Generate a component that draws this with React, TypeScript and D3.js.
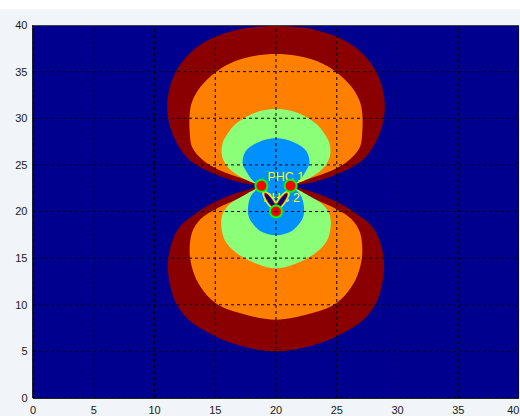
import React from "react";
import * as d3 from "d3";

type P = [number, number];

const xTicks = [0, 5, 10, 15, 20, 25, 30, 35, 40];
const yTicks = [0, 5, 10, 15, 20, 25, 30, 35, 40];

// source positions
const sources: P[] = [[18.8, 22.75], [21.2, 22.75], [20, 20.0]];
const labels = [
  { text: "PHC 1", at: [19.3, 23.25] as P },
  { text: "PHC 2", at: [18.95, 21.0] as P },
];

// contour levels: upper lobe (left dot -> over top -> right dot), lower lobe (right dot -> under -> left dot)
const darkRedTop: P[] = [[18.8,22.75],[16.8,23.2],[14.8,24.1],[12.9,25.5],[11.85,27.3],[11.2,29.5],[11.05,31.5],[11.3,33.5],[11.85,35.2],[12.7,36.7],[13.8,37.9],[15.2,38.85],[16.8,39.5],[18.4,39.8],[20,39.9],[21.6,39.8],[23.2,39.5],[24.8,38.85],[26.2,37.9],[27.3,36.7],[28.15,35.2],[28.7,33.5],[28.95,31.5],[28.8,29.5],[28.15,27.3],[27.1,25.5],[25.2,24.1],[23.2,23.2],[21.2,22.75]];
const darkRedBottom: P[] = [[21.2,22.75],[23.2,22.0],[25.2,20.9],[26.8,19.6],[27.9,18.4],[28.6,16.6],[28.9,14.3],[28.7,12.0],[28.2,10.1],[27.2,8.4],[25.4,6.9],[23.2,5.7],[20,5.0],[16.8,5.7],[14.6,6.9],[12.8,8.4],[11.8,10.1],[11.3,12.0],[11.1,14.3],[11.4,16.6],[12.1,18.4],[13.2,19.6],[14.8,20.9],[16.8,22.0],[18.8,22.75]];

const orangeTop: P[] = [[18.8,22.75],[17.1,23.6],[15.4,24.4],[14.0,25.5],[13.1,26.9],[12.9,28.5],[12.9,30.5],[13.1,31.8],[13.8,33.4],[15.1,35.0],[16.6,36.1],[18.3,36.7],[20,36.9],[21.7,36.7],[23.4,36.1],[24.9,35.0],[26.2,33.4],[26.9,31.8],[27.1,30.5],[27.1,28.5],[26.9,26.9],[26.0,25.5],[24.6,24.4],[22.9,23.6],[21.2,22.75]];
const orangeBottom: P[] = [[21.2,22.75],[22.7,21.6],[24.9,20.3],[26.2,19.2],[26.9,17.8],[27.1,15.5],[26.8,13.5],[26.2,11.9],[24.9,10.1],[22.7,9.0],[20,8.4],[17.3,9.0],[15.1,10.1],[13.8,11.9],[13.2,13.5],[12.9,15.5],[13.1,17.8],[13.8,19.2],[15.1,20.3],[17.3,21.6],[18.8,22.75]];

const greenTop: P[] = [[18.8,22.75],[17.1,23.7],[16.0,24.8],[15.55,26.0],[15.6,27.3],[16.0,28.3],[16.6,29.3],[17.6,30.2],[18.8,30.8],[20,31.0],[21.2,30.8],[22.4,30.2],[23.4,29.3],[24.0,28.3],[24.4,27.3],[24.45,26.0],[24.0,24.8],[22.9,23.7],[21.2,22.75]];
const greenBottom: P[] = [[21.2,22.75],[22.7,21.7],[23.8,20.8],[24.4,19.7],[24.5,18.4],[24.2,16.9],[23.2,15.5],[21.6,14.4],[20,13.9],[18.4,14.4],[16.8,15.5],[15.8,16.9],[15.5,18.4],[15.6,19.7],[16.2,20.8],[17.3,21.7],[18.8,22.75]];

const blueTop: P[] = [[18.8,22.75],[18.1,23.3],[17.6,24.2],[17.25,25.2],[17.5,26.45],[18.2,27.2],[19.05,27.68],[20,27.85],[20.95,27.68],[21.8,27.2],[22.5,26.45],[22.75,25.2],[22.4,24.2],[21.9,23.3],[21.2,22.75]];
const blueBottom: P[] = [[21.2,22.75],[22.0,21.8],[22.3,20.5],[22.2,19.3],[21.4,18.0],[20.7,17.6],[20,17.46],[19.3,17.6],[18.6,18.0],[17.8,19.3],[17.7,20.5],[18.0,21.8],[18.8,22.75]];

const levels = [
  { color: "#8A0000", top: darkRedTop, bottom: darkRedBottom },
  { color: "#FF8000", top: orangeTop, bottom: orangeBottom },
  { color: "#8CFF78", top: greenTop, bottom: greenBottom },
  { color: "#0090FF", top: blueTop, bottom: blueBottom },
];

// small streaks between the lower source and the upper ones
const armTips: P[] = [[19.05, 22.0], [20.95, 22.0]];
const armBase: P = [20, 20.25];

const W = 520, H = 416;
const x = d3.scaleLinear().domain([0, 40]).range([33, 519]);
const y = d3.scaleLinear().domain([0, 40]).range([398, 25]);

const line = d3.line<P>().x((d) => x(d[0])).y((d) => y(d[1])).curve(d3.curveCatmullRom.alpha(0.5));

function figure8(top: P[], bottom: P[]) {
  const a = line(top) || "";
  const b = (line(bottom) || "").replace(/^M/, "L");
  return a + b + "Z";
}

const armLayers = [
  { c: "#8CFF78", dx: 2.5, ry: 4.4 },
  { c: "#FFFF00", dx: 1.5, ry: 3.6 },
  { c: "#FF8000", dx: 0.5, ry: 3.0 },
  { c: "#8A0000", dx: -0.5, ry: 2.4 },
  { c: "#00008F", dx: -1.5, ry: 1.7 },
];

export default function App() {
  const [x0, x1] = x.range();
  const [y0, y1] = y.range();
  const font = "'Liberation Sans', Arial, Helvetica, sans-serif";
  return (
    <svg width={W} height={H} style={{ position: "absolute", left: 0, top: 0 }}>
      <rect x={0} y={0} width={W} height={H} fill="#ffffff" />
      <rect x={0} y={9} width={W} height={H - 9} fill="#F1F4F8" />
      <defs>
        <clipPath id="plot">
          <rect x={x0} y={y1} width={x1 - x0} height={y0 - y1} />
        </clipPath>
      </defs>
      <g clipPath="url(#plot)">
        <rect x={x0} y={y1} width={x1 - x0} height={y0 - y1} fill="#00008F" />
        {levels.map((l, i) => (
          <path key={i} d={figure8(l.top, l.bottom)} fill={l.color} />
        ))}
        {labels.map((l, i) => (
          <text key={i} x={x(l.at[0])} y={y(l.at[1])} fill="#FFFF00" fontFamily={font} fontSize={12.5}>
            {l.text}
          </text>
        ))}
        {armTips.map((t, i) => {
          const ax = x(t[0]), ay = y(t[1]);
          const bx = x(armBase[0]), by = y(armBase[1]);
          const cx = (ax + bx) / 2, cy = (ay + by) / 2;
          const len = Math.hypot(ax - bx, ay - by);
          const ang = (Math.atan2(ay - by, ax - bx) * 180) / Math.PI;
          return (
            <g key={i} transform={`translate(${cx},${cy}) rotate(${ang})`}>
              {armLayers.map((a, j) => (
                <ellipse key={j} cx={0} cy={0} rx={len / 2 + a.dx} ry={a.ry} fill={a.c} />
              ))}
            </g>
          );
        })}
        {xTicks.map((t) => (
          <line key={"gx" + t} x1={x(t)} x2={x(t)} y1={y0} y2={y1} stroke="#000" strokeWidth={1} strokeDasharray="3,3" />
        ))}
        {yTicks.map((t) => (
          <line key={"gy" + t} x1={x0} x2={x1} y1={y(t)} y2={y(t)} stroke="#000" strokeWidth={1} strokeDasharray="3,3" />
        ))}
        {sources.map((s, i) => (
          <circle key={i} cx={x(s[0])} cy={y(s[1])} r={6} fill="#FF0000" stroke="#00FF00" strokeWidth={2} />
        ))}
        <path
          d={`M${x(sources[2][0]) - 2.5},${y(sources[2][1])}h5M${x(sources[2][0])},${y(sources[2][1]) - 2.5}v5`}
          stroke="#600000"
          strokeWidth={1}
        />
      </g>
      <line x1={x0} x2={x1} y1={y1 + 0.5} y2={y1 + 0.5} stroke="#404040" />
      <line x1={x0 - 0.5} x2={x0 - 0.5} y1={y1} y2={y0} stroke="#202020" />
      <line x1={x0} x2={x1} y1={y0 + 0.5} y2={y0 + 0.5} stroke="#202020" />
      {yTicks.map((t) => (
        <text key={"ly" + t} x={27.5} y={y(t)} dy="0.36em" textAnchor="end" fontFamily={font} fontSize={11} fill="#1a1a1a">
          {t}
        </text>
      ))}
      {xTicks.map((t) => {
        const px = x(t);
        const atEdge = px + 7 > W;
        return (
          <text
            key={"lx" + t}
            x={atEdge ? W - 0.5 : px}
            y={413.5}
            textAnchor={atEdge ? "end" : "middle"}
            fontFamily={font}
            fontSize={11}
            fill="#1a1a1a"
          >
            {t}
          </text>
        );
      })}
    </svg>
  );
}
